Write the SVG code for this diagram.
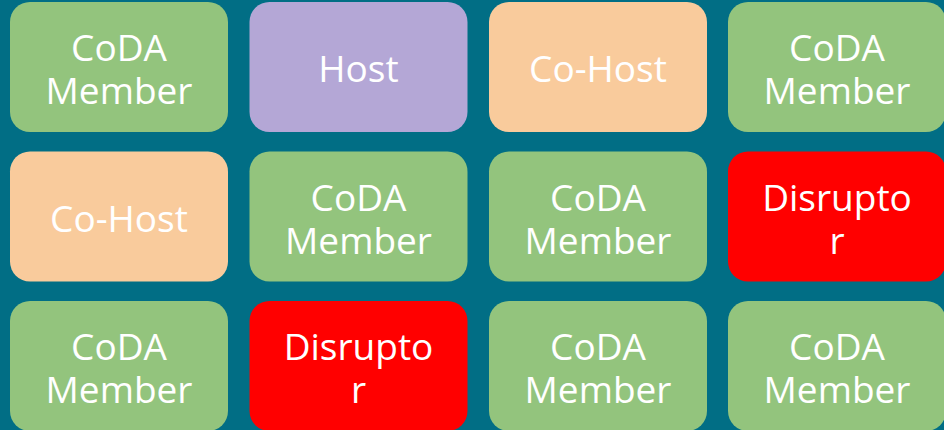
<svg xmlns="http://www.w3.org/2000/svg" width="944" height="430" viewBox="0 0 944 430">
<style>
.b{stroke:none}
.g{fill:#93C47D}.p{fill:#B4A7D6}.o{fill:#F9CB9C}.r{fill:#FF0000}
text{font-family:"Open Sans","Noto Sans","DejaVu Sans",sans-serif;font-size:37px;fill:#FFFFFF;text-anchor:middle}
</style>
<rect width="944" height="430" fill="#016E85"/>
<g id="n1"><rect class="b g" x="10" y="2" width="218" height="130" rx="20"/><text x="119" y="61">CoDA</text><text x="119" y="104">Member</text></g>
<g id="n2"><rect class="b p" x="249.5" y="2" width="218" height="130" rx="20"/><text x="358.5" y="82">Host</text></g>
<g id="n3"><rect class="b o" x="489" y="2" width="218" height="130" rx="20"/><text x="598" y="82">Co-Host</text></g>
<g id="n4"><rect class="b g" x="728" y="2" width="218" height="130" rx="20"/><text x="837" y="61">CoDA</text><text x="837" y="104">Member</text></g>
<g id="n5"><rect class="b o" x="10" y="151.5" width="218" height="130" rx="20"/><text x="119" y="231.5">Co-Host</text></g>
<g id="n6"><rect class="b g" x="249.5" y="151.5" width="218" height="130" rx="20"/><text x="358.5" y="210.5">CoDA</text><text x="358.5" y="253.5">Member</text></g>
<g id="n7"><rect class="b g" x="489" y="151.5" width="218" height="130" rx="20"/><text x="598" y="210.5">CoDA</text><text x="598" y="253.5">Member</text></g>
<g id="n8"><rect class="b r" x="728" y="151.5" width="218" height="130" rx="20"/><text x="837" y="210.5">Disrupto</text><text x="837" y="253.5">r</text></g>
<g id="n9"><rect class="b g" x="10" y="301" width="218" height="130" rx="20"/><text x="119" y="360">CoDA</text><text x="119" y="403">Member</text></g>
<g id="n10"><rect class="b r" x="249.5" y="301" width="218" height="130" rx="20"/><text x="358.5" y="360">Disrupto</text><text x="358.5" y="403">r</text></g>
<g id="n11"><rect class="b g" x="489" y="301" width="218" height="130" rx="20"/><text x="598" y="360">CoDA</text><text x="598" y="403">Member</text></g>
<g id="n12"><rect class="b g" x="728" y="301" width="218" height="130" rx="20"/><text x="837" y="360">CoDA</text><text x="837" y="403">Member</text></g>
<g id="connectors"/>
</svg>
